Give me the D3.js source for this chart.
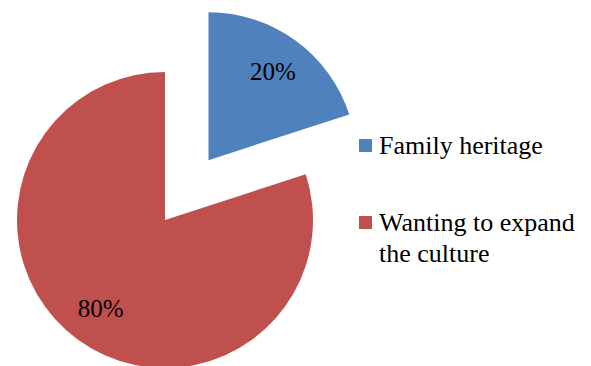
<!DOCTYPE html>
<html>
<head>
<meta charset="utf-8">
<script src="https://cdn.jsdelivr.net/npm/d3@7"></script>
<style>
  body { margin: 0; background: #fff; }
  svg { display: block; }
  text { font-family: "Times New Roman", "Liberation Serif", "DejaVu Serif", serif; }
</style>
</head>
<body>
<div id="pie-chart"></div>
<script>
var categories = ["Family heritage", "Wanting to expand the culture"];
var legendLines = [["Family heritage"], ["Wanting to expand", "the culture"]];
var values = [20, 80];
var labels = ["20%", "80%"];
var colors = ["#4F81BD", "#C0504D"];
var exploded = [true, false];

var width = 591, height = 366;
var radius = 148;
var cx = 165, cy = 220;
var explodeDist = 74;

var svg = d3.select("#pie-chart")
  .append("svg")
    .attr("width", width)
    .attr("height", height);

var pie = d3.pie().sort(null).value(function(d) { return d; });
var arcs = pie(values);

var arc = d3.arc().innerRadius(0).outerRadius(radius);
var labelArc = d3.arc().innerRadius(radius * 0.74).outerRadius(radius * 0.74);

var g = svg.append("g")
  .attr("transform", "translate(" + cx + "," + cy + ")");

var slices = g.selectAll(".slice")
  .data(arcs)
  .enter().append("g")
    .attr("class", "slice")
    .attr("transform", function(d, i) {
      if (!exploded[i]) return null;
      var mid = (d.startAngle + d.endAngle) / 2;
      return "translate(" + (Math.sin(mid) * explodeDist) + "," + (-Math.cos(mid) * explodeDist) + ")";
    });

slices.append("path")
  .attr("d", arc)
  .attr("fill", function(d, i) { return colors[i]; });

slices.append("text")
  .attr("transform", function(d) { return "translate(" + labelArc.centroid(d) + ")"; })
  .attr("text-anchor", "middle")
  .attr("dy", "0.35em")
  .attr("font-size", 25)
  .attr("fill", "#000")
  .text(function(d, i) { return labels[i]; });

// legend
var legend = svg.append("g")
  .attr("transform", "translate(359,0)");

var itemY = [154, 231];

var items = legend.selectAll(".item")
  .data(categories)
  .enter().append("g")
    .attr("class", "item")
    .attr("transform", function(d, i) { return "translate(0," + itemY[i] + ")"; });

items.append("rect")
  .attr("x", 0)
  .attr("y", -15)
  .attr("width", 13)
  .attr("height", 13)
  .attr("fill", function(d, i) { return colors[i]; });

items.append("text")
  .attr("x", 20)
  .attr("font-size", 26)
  .attr("fill", "#000")
  .selectAll("tspan")
  .data(function(d, i) { return legendLines[i]; })
  .enter().append("tspan")
    .attr("x", 20)
    .attr("dy", function(d, j) { return j === 0 ? 0 : 31; })
    .text(function(d) { return d; });
</script>
</body>
</html>
